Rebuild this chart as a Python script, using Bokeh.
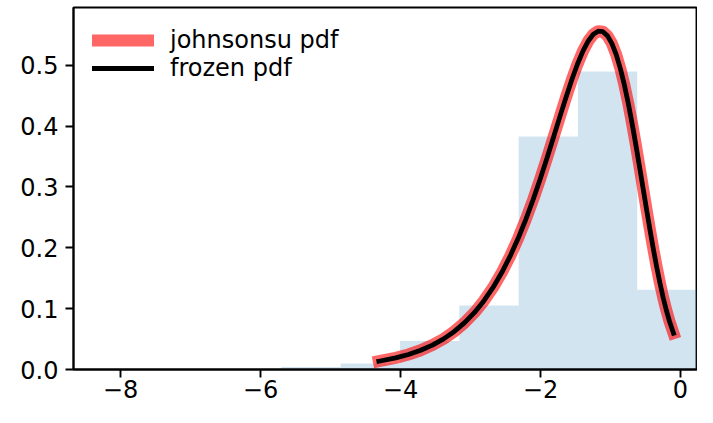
from bokeh.plotting import figure
from bokeh.models import FixedTicker, CustomJSTickFormatter, Range1d
from bokeh.embed import file_html
from bokeh.resources import INLINE

# histogram (density) bin edges and heights
bin_edges = [-8.241, -7.394, -6.547, -5.700, -4.853, -4.006, -3.159, -2.312, -1.465, -0.618, 0.229]
bin_heights = [0.001, 0.0, 0.0, 0.004, 0.010, 0.047, 0.105, 0.383, 0.490, 0.131]

# pdf curve points
curve_x = [-4.3093, -4.0682, -3.8860, -3.7114, -3.5441, -3.3839, -3.2304, -3.0832, -2.9422,
           -2.8070, -2.6772, -2.5528, -2.4334, -2.3189, -2.2089, -2.1033, -2.0018, -1.9043,
           -1.8106, -1.7204, -1.6336, -1.5501, -1.4696, -1.3920, -1.3172, -1.2450, -1.1752,
           -1.1078, -1.0425, -0.9793, -0.9181, -0.8586, -0.8009, -0.7447, -0.6900, -0.6367,
           -0.5846, -0.5337, -0.4838, -0.4349, -0.3868, -0.3395, -0.2929, -0.2469, -0.2013,
           -0.1562, -0.0997]
curve_y = [0.01357, 0.01905, 0.02466, 0.03161, 0.04009, 0.05034, 0.06258, 0.07700, 0.09378,
           0.11306, 0.13492, 0.15936, 0.18631, 0.21558, 0.24691, 0.27988, 0.31397, 0.34858,
           0.38298, 0.41641, 0.44801, 0.47699, 0.50246, 0.52370, 0.54006, 0.55101, 0.55611,
           0.55522, 0.54836, 0.53566, 0.51755, 0.49453, 0.46730, 0.43666, 0.40345, 0.36856,
           0.33287, 0.29721, 0.26233, 0.22887, 0.19736, 0.16821, 0.14168, 0.11794, 0.09702,
           0.07886, 0.05974]

x_ticks = [-8, -6, -4, -2, 0]
y_ticks = [0.0, 0.1, 0.2, 0.3, 0.4, 0.5]

FONT = "DejaVu Sans"

p = figure(width=697, height=407, output_backend="svg", toolbar_location=None,
           x_range=Range1d(-8.671, 0.243), y_range=Range1d(0, 0.595),
           min_border_left=73, min_border_right=0, min_border_top=7, min_border_bottom=38)

p.quad(left=bin_edges[:-1], right=bin_edges[1:], bottom=0, top=bin_heights,
       fill_color="#1f77b4", fill_alpha=0.2, line_color=None)

p.line(curve_x, curve_y, line_color="#ff0000", line_alpha=0.6, line_width=12,
       line_cap="square", line_join="round", legend_label="johnsonsu pdf")
p.line(curve_x, curve_y, line_color="black", line_width=4.8,
       line_cap="square", line_join="round", legend_label="frozen pdf")

p.xgrid.visible = False
p.ygrid.visible = False
p.outline_line_color = "black"
p.outline_line_width = 1.9
p.outline_line_alpha = 1.0

for ax in (p.xaxis[0], p.yaxis[0]):
    ax.axis_line_color = "black"
    ax.axis_line_width = 1.9
    ax.major_tick_line_width = 1.9
    ax.major_tick_line_color = "black"
    ax.major_tick_out = 8
    ax.major_tick_in = 0
    ax.minor_tick_line_color = None
    ax.major_label_text_font = FONT
    ax.major_label_text_font_size = "24px"
    ax.major_label_text_color = "black"

p.xaxis[0].ticker = FixedTicker(ticks=x_ticks)
p.yaxis[0].ticker = FixedTicker(ticks=y_ticks)
p.xaxis[0].formatter = CustomJSTickFormatter(code="return tick < 0 ? '\u2212' + Math.abs(tick) : tick.toString();")
p.yaxis[0].formatter = CustomJSTickFormatter(code="return tick.toFixed(1);")
p.xaxis[0].major_label_standoff = 2
p.yaxis[0].major_label_standoff = 7

lg = p.legend[0]
lg.location = "top_left"
lg.border_line_color = None
lg.background_fill_alpha = 0
lg.margin = 19
lg.padding = 0
lg.spacing = -3
lg.glyph_width = 62
lg.glyph_height = 20
lg.label_standoff = 16
lg.label_text_font = FONT
lg.label_text_font_size = "24px"
lg.label_text_color = "black"

open("out.html", "w").write(file_html(p, INLINE))
